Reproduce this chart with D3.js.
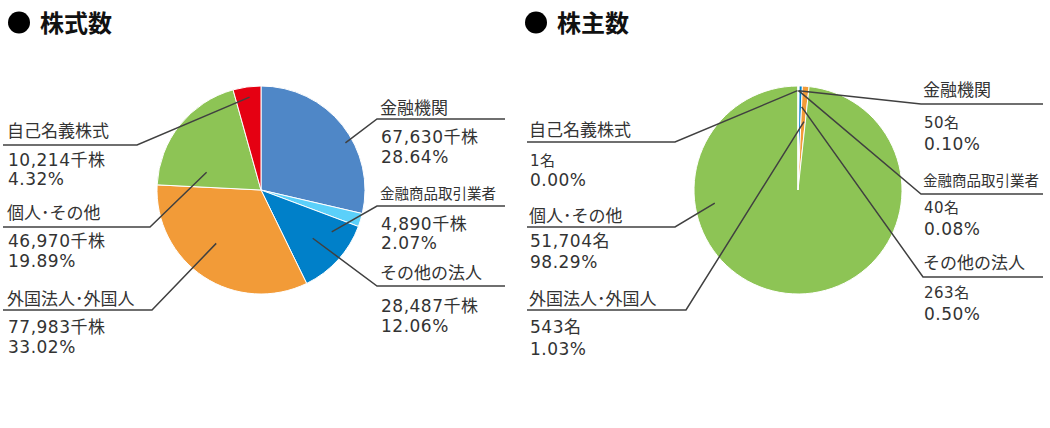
<!DOCTYPE html>
<html>
<head>
<meta charset="utf-8">
<script src="https://cdn.jsdelivr.net/npm/d3@7"></script>
<style>
  body { margin: 0; background: #fff; }
  svg text { font-family: "DejaVu Sans", "Noto Sans CJK JP", sans-serif; }
</style>
</head>
<body>
<div id="plot"></div>
<script>
const w = 1050;
const h = 428;

// data
const categories = ["金融機関", "金融商品取引業者", "その他の法人", "外国法人･外国人", "個人･その他", "自己名義株式"];
const colors = ["#4f87c7", "#5bd0fa", "#0080c9", "#f29b38", "#8dc455", "#e50012"];
const shareValues = [67630, 4890, 28487, 77983, 46970, 10214];
const shareLabels = ["67,630千株", "4,890千株", "28,487千株", "77,983千株", "46,970千株", "10,214千株"];
const sharePercents = ["28.64%", "2.07%", "12.06%", "33.02%", "19.89%", "4.32%"];
const holderValues = [50, 40, 263, 543, 51704, 1];
const holderLabels = ["50名", "40名", "263名", "543名", "51,704名", "1名"];
const holderPercents = ["0.10%", "0.08%", "0.50%", "1.03%", "98.29%", "0.00%"];
const titles = ["株式数", "株主数"];

// layout of the labels (per category): side, underline y, elbow x, text baselines, leader anchor
const layouts = [
  {
    cx: 261, cy: 190, r: 104, titleX: 19, lineL: 3, lineR: 505, textL: 7, textR: 380,
    labels: [
      { side: "R", u: 119, ex: 377, ny: 114, v1: 143, v2: 163, a: 60.8, f: 0.93 },
      { side: "R", u: 206, ex: 377, ny: 199, v1: 230, v2: 249, a: 120.6, f: 0.79, small: true },
      { side: "R", u: 286, ex: 377, ny: 279, v1: 312, v2: 332, a: 133, f: 0.68 },
      { side: "L", u: 310, ex: 152, ny: 305, v1: 333, v2: 353, a: 220, f: 0.67 },
      { side: "L", u: 227, ex: 150, ny: 219, v1: 247, v2: 267, a: 288, f: 0.55 },
      { side: "L", u: 145, ex: 137, ny: 137, v1: 166, v2: 185, a: 353, f: 0.9 }
    ]
  },
  {
    cx: 798, cy: 190, r: 104, titleX: 536, lineL: 527, lineR: 1043, textL: 529, textR: 923,
    labels: [
      { side: "R", u: 104, ex: 921, ny: 96, v1: 128, v2: 150, a: 0.3, f: 0.955, smallVal: true },
      { side: "R", u: 194, ex: 921, ny: 186, v1: 213, v2: 235, a: 0.3, f: 0.955, small: true, smallVal: true },
      { side: "R", u: 277, ex: 923, ny: 269, v1: 298, v2: 320, a: 2.5, f: 0.8, smallVal: true },
      { side: "L", u: 310, ex: 686, ny: 305, v1: 333, v2: 355, a: 5, f: 0.66 },
      { side: "L", u: 227, ex: 675, ny: 222, v1: 247, v2: 268, a: 261, f: 0.81 },
      { side: "L", u: 142, ex: 675, ny: 136, v1: 166, v2: 186, a: 359.7, f: 0.955, smallVal: true }
    ]
  }
];

const series = [
  { values: shareValues, labels: shareLabels, percents: sharePercents },
  { values: holderValues, labels: holderLabels, percents: holderPercents }
];

const svg = d3.select("div#plot")
  .append("svg")
  .attr("width", w)
  .attr("height", h);

const pie = d3.pie().sort(null).value(d => d);

series.forEach((s, i) => {
  const L = layouts[i];

  // title
  svg.append("circle")
    .attr("cx", L.titleX)
    .attr("cy", 22.5)
    .attr("r", 11)
    .attr("fill", "#000");
  svg.append("text")
    .attr("x", L.titleX + 21)
    .attr("y", 32)
    .attr("font-size", "24px")
    .attr("font-weight", "bold")
    .attr("fill", "#111")
    .text(titles[i]);

  const arc = d3.arc().innerRadius(0).outerRadius(L.r);
  const g = svg.append("g")
    .attr("transform", `translate(${L.cx}, ${L.cy})`);

  g.selectAll("path")
    .data(pie(s.values))
    .enter()
    .append("path")
    .attr("d", arc)
    .attr("fill", (d, j) => colors[j])
    .attr("stroke", "#fff")
    .attr("stroke-width", 1);

  // labels
  L.labels.forEach((lb, j) => {
    const p = d3.pointRadial(lb.a * Math.PI / 180, L.r * lb.f);
    const ax = L.cx + p[0];
    const ay = L.cy + p[1];
    const x0 = lb.side === "L" ? L.lineL : L.lineR;
    const tx = lb.side === "L" ? L.textL : L.textR;

    svg.append("polyline")
      .attr("points", `${ax},${ay} ${lb.ex},${lb.u} ${x0},${lb.u}`)
      .attr("fill", "none")
      .attr("stroke", "#404040")
      .attr("stroke-width", 1.5);

    svg.append("text")
      .attr("x", tx)
      .attr("y", lb.ny)
      .attr("font-size", lb.small ? "14.5px" : "17px")
      .attr("fill", "#333")
      .text(categories[j]);

    svg.append("text")
      .attr("x", tx + 1)
      .attr("y", lb.v1)
      .attr("font-size", lb.smallVal ? "15px" : "17px")
      .attr("letter-spacing", "0.5px")
      .attr("fill", "#333")
      .text(s.labels[j]);

    svg.append("text")
      .attr("x", tx + 1)
      .attr("y", lb.v2)
      .attr("font-size", "17px")
      .attr("letter-spacing", "0.5px")
      .attr("fill", "#333")
      .text(s.percents[j]);
  });
});
</script>
</body>
</html>
